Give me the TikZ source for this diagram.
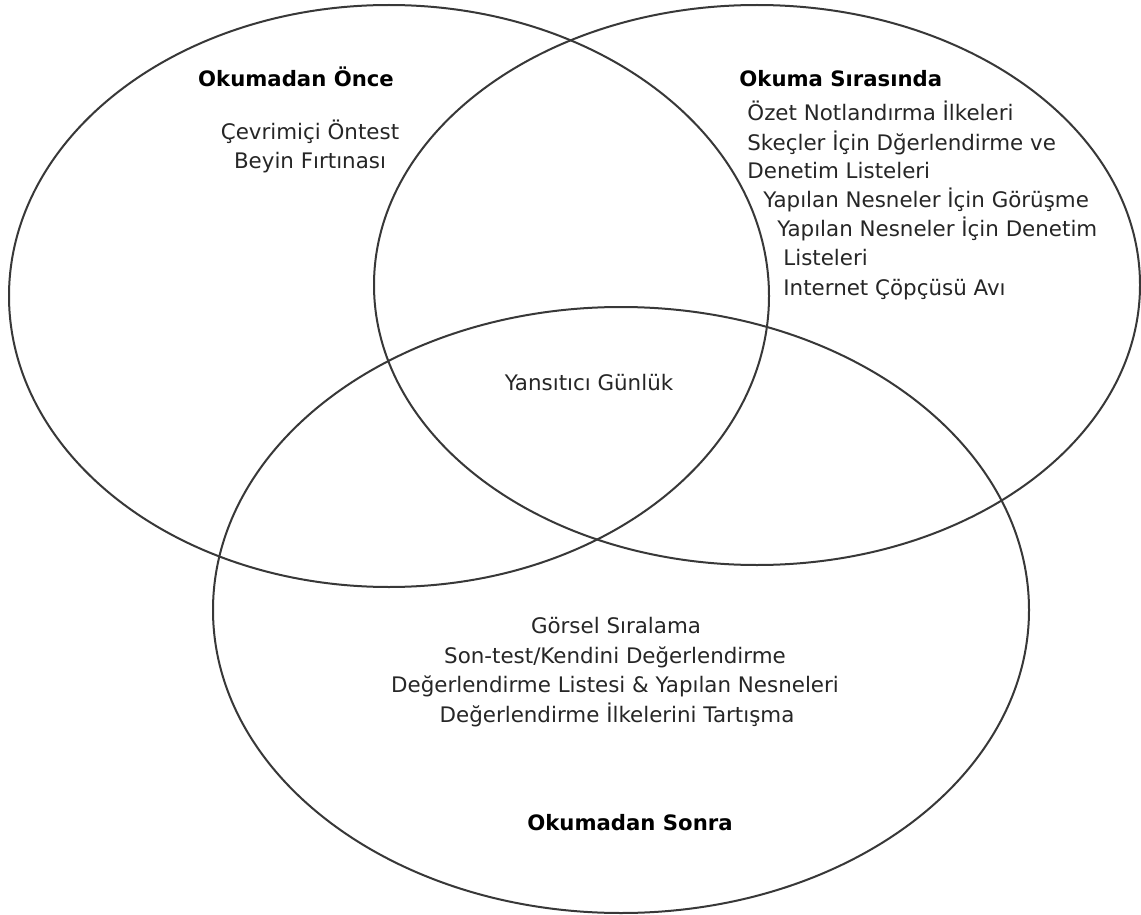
\documentclass[tikz,border=0pt]{standalone}
\usepackage{fontspec}
\setmainfont{DejaVu Sans}
\begin{document}
\begin{tikzpicture}[x=0.5pt,y=-0.5pt,
  ring/.style={draw=black!78,line width=1pt},
  lbl/.style={inner sep=0pt,font=\fontsize{10.7}{12}\selectfont,text=black!85},
  ttl/.style={inner sep=0pt,font=\fontsize{10.6}{12}\selectfont\bfseries,text=black},
  lblc/.style={lbl,anchor=base},
  lblw/.style={lbl,anchor=base west},
  ttlc/.style={ttl,anchor=base},
  ttlw/.style={ttl,anchor=base west}]
\useasboundingbox[fill=white] (0,0) rectangle (1141,915);
% circles
\draw[ring] (389,296) ellipse [x radius=190pt, y radius=145.5pt];
\draw[ring] (757,285) ellipse [x radius=191.5pt, y radius=140pt];
\draw[ring] (621,610) ellipse [x radius=204pt, y radius=151.5pt];
% before reading
\node[ttlc] (t1) at (296,87) {Okumadan Önce};
\node[lblc] (a1) at (310,140) {Çevrimiçi Öntest};
\node[lblc] (a2) at (310,169) {Beyin Fırtınası};
% during reading
\node[ttlw] (t2) at (739,87) {Okuma Sırasında};
\node[lblw] (b1) at (747,120) {Özet Notlandırma İlkeleri};
\node[lblw] (b2) at (747,150) {Skeçler İçin Dğerlendirme ve};
\node[lblw] (b3) at (747,178) {Denetim Listeleri};
\node[lblw] (b4) at (763,207) {Yapılan Nesneler İçin Görüşme};
\node[lblw] (b5) at (777,236) {Yapılan Nesneler İçin Denetim};
\node[lblw] (b6) at (783,265) {Listeleri};
\node[lblw] (b7) at (783,295) {Internet Çöpçüsü Avı};
% centre
\node[lblc] (m1) at (589,390) {Yansıtıcı Günlük};
% after reading
\node[lblc] (c1) at (616,633) {Görsel Sıralama};
\node[lblc] (c2) at (615,663) {Son-test/Kendini Değerlendirme};
\node[lblc] (c3) at (615,692) {Değerlendirme Listesi \& Yapılan Nesneleri};
\node[lblc] (c4) at (617,722) {Değerlendirme İlkelerini Tartışma};
\node[ttlc] (t3) at (630,830) {Okumadan Sonra};
\end{tikzpicture}
\end{document}
